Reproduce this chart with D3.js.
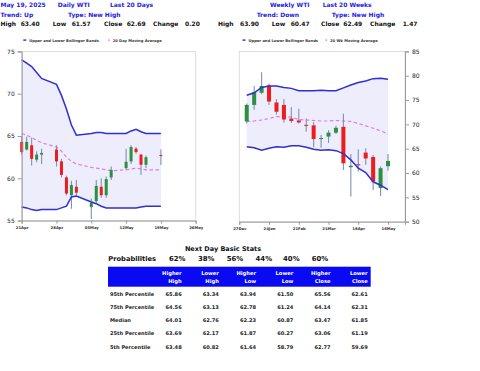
<!DOCTYPE html>
<html>
<head>
<meta charset="utf-8">
<script src="https://cdn.jsdelivr.net/npm/d3@7"></script>
<style>
  body { margin: 0; background: #fff; }
  text { font-family: "DejaVu Sans", Verdana, sans-serif; }
</style>
</head>
<body>
<script>
// daily WTI, last 20 days
const dailyDates = ["2025-04-21","2025-04-22","2025-04-23","2025-04-24","2025-04-25",
  "2025-04-28","2025-04-29","2025-04-30","2025-05-01","2025-05-02",
  "2025-05-05","2025-05-06","2025-05-07","2025-05-08","2025-05-09",
  "2025-05-12","2025-05-13","2025-05-14","2025-05-15","2025-05-16","2025-05-19"];
const dailyOpen  = [64.3, 63.4, 63.9, 62.2, 62.8, 63.4, 62.0, 60.1, 58.0, 59.0, 56.6, 57.3, 59.0, 58.0, 60.1, 61.2, 62.0, 63.5, 62.8, 61.6, 62.75];
const dailyHigh  = [64.9, 64.9, 64.8, 63.2, 63.5, 63.9, 62.3, 60.3, 59.7, 59.8, 57.6, 59.8, 60.0, 60.2, 61.4, 63.5, 63.9, 63.7, 62.9, 62.7, 63.40];
const dailyLow   = [62.8, 63.3, 61.5, 61.9, 61.7, 61.4, 60.1, 58.0, 56.4, 58.0, 55.2, 57.0, 57.7, 57.7, 59.8, 61.0, 61.7, 62.9, 60.4, 61.2, 61.57];
const dailyClose = [63.1, 64.3, 62.3, 62.8, 63.0, 62.0, 60.4, 58.2, 59.2, 58.3, 57.1, 59.1, 58.0, 59.9, 61.0, 61.95, 63.7, 63.1, 61.6, 62.49, 62.69];
const dailyUpper = [74.0, 73.6, 73.2, 72.5, 71.8, 71.1, 69.8, 68.2, 66.3, 65.1, 65.3, 65.4, 65.4, 65.3, 65.3, 65.3, 65.6, 65.8, 65.5, 65.3, 65.3];
const dailyLower = [56.6, 56.5, 56.3, 56.2, 56.3, 56.3, 56.5, 56.7, 57.8, 57.9, 57.2, 57.0, 56.7, 56.5, 56.5, 56.5, 56.5, 56.5, 56.6, 56.7, 56.7];
const dailyMA    = [65.3, 65.1, 64.8, 64.5, 64.2, 63.7, 63.2, 62.5, 62.0, 61.7, 61.3, 61.2, 61.1, 61.0, 60.9, 61.0, 61.1, 61.2, 61.1, 61.0, 61.0];
const dailyTicks = ["2025-04-21","2025-04-28","2025-05-05","2025-05-12","2025-05-19","2025-05-26"];

// weekly WTI, last 20 weeks
const weeklyDates = ["2025-01-03","2025-01-10","2025-01-17","2025-01-24","2025-01-31",
  "2025-02-07","2025-02-14","2025-02-21","2025-02-28","2025-03-07",
  "2025-03-14","2025-03-21","2025-03-28","2025-04-04","2025-04-11",
  "2025-04-18","2025-04-25","2025-05-02","2025-05-09","2025-05-16"];
const weeklyOpen  = [70.6, 74.0, 76.5, 78.0, 74.5, 74.0, 71.2, 70.8, 69.9, 69.8, 67.0, 67.5, 68.3, 69.5, 61.2, 61.8, 64.2, 63.3, 56.9, 61.4];
const weeklyHigh  = [74.3, 77.9, 80.7, 78.4, 75.2, 75.2, 73.5, 73.2, 71.2, 70.5, 67.8, 68.8, 69.7, 72.2, 63.9, 64.9, 65.1, 63.7, 61.4, 63.90];
const weeklyLow   = [70.2, 73.0, 76.2, 74.0, 72.0, 70.4, 70.3, 70.2, 68.5, 65.3, 65.2, 66.2, 68.0, 60.6, 55.2, 60.3, 61.7, 56.5, 55.3, 60.47];
const weeklyClose = [74.0, 76.6, 77.9, 74.7, 72.6, 71.0, 70.7, 70.4, 69.8, 67.0, 67.2, 68.3, 69.3, 62.0, 61.5, 61.6, 63.0, 58.3, 61.0, 62.49];
const weeklyUpper = [76.0, 76.5, 77.6, 77.9, 77.9, 77.6, 77.4, 76.9, 76.9, 76.9, 77.0, 76.9, 76.9, 77.5, 78.1, 78.6, 78.9, 79.4, 79.5, 79.3];
const weeklyLower = [65.4, 65.2, 64.7, 65.1, 65.4, 65.3, 65.6, 65.6, 65.3, 64.9, 64.7, 64.8, 64.6, 64.0, 62.7, 61.0, 60.1, 58.2, 57.5, 56.6];
const weeklyMA    = [70.6, 70.7, 70.9, 71.2, 71.6, 71.6, 71.5, 71.0, 70.9, 70.8, 70.7, 70.7, 70.8, 70.7, 70.6, 70.2, 69.7, 69.2, 68.7, 68.0];
const weeklyTicks = ["2024-12-27","2025-01-24","2025-02-21","2025-03-21","2025-04-18","2025-05-16"];

// header texts
const headBlue1 = ["May 19, 2025", "Daily WTI", "Last 20 Days", "Weekly WTI", "Last 20 Weeks"];
const headBlue2 = ["Trend: Up", "Type: New High", "Trend: Down", "Type: New High"];
const headStats = ["High", "63.40", "Low", "61.57", "Close", "62.69", "Change", "0.20",
                   "High", "63.90", "Low", "60.47", "Close", "62.49", "Change", "1.47"];
const legendDaily  = ["Upper and Lower Bollinger Bands", "20 Day Moving Average"];
const legendWeekly = ["Upper and Lower Bollinger Bands", "20 Wk Moving Average"];

// next day stats table
const probabilities = ["62%", "38%", "56%", "44%", "40%", "60%"];
const colHeads = [["Higher", "High"], ["Lower", "High"], ["Higher", "Low"], ["Lower", "Low"], ["Higher", "Close"], ["Lower", "Close"]];
const rowLabels = ["95th Percentile", "75th Percentile", "Median", "25th Percentile", "5th Percentile"];
const tableValues = [
  ["65.86", "63.34", "63.94", "61.50", "65.56", "62.61"],
  ["64.56", "63.13", "62.78", "61.24", "64.14", "62.31"],
  ["64.01", "62.76", "62.23", "60.87", "63.47", "61.85"],
  ["63.69", "62.17", "61.87", "60.27", "63.06", "61.19"],
  ["63.48", "60.82", "61.64", "58.79", "62.77", "59.69"]
];

const parse = d3.timeParse("%Y-%m-%d");
const fmtTick = d3.timeFormat("%d%b");

const BLUE = "#1c1ce0";
const BAND = "#2f2fd2";
const MAC = "#e07ce6";
const RED = "#ee1c1c";
const GREEN = "#2b9140";
const WICK = "#7f90b4";

const svg = d3.select("body").append("svg")
  .attr("width", 480).attr("height", 371);
svg.append("rect").attr("width", 480).attr("height", 371).attr("fill", "#fff");

// header
const h1x = [0.5, 57.7, 110, 270, 322.7];
const h2x = [0.5, 68, 256.7, 331.7];
const h3x = [0.5, 20.7, 52.7, 71.7, 104, 126.7, 153, 185, 218, 240, 271.7, 290.7, 321, 343.3, 370, 402.7];
svg.append("g").selectAll("text").data(headBlue1).join("text")
  .attr("x", (d, i) => h1x[i]).attr("y", 7.4)
  .attr("font-size", 6).attr("font-weight", "bold").attr("fill", BLUE).text(d => d);
svg.append("g").selectAll("text").data(headBlue2).join("text")
  .attr("x", (d, i) => h2x[i]).attr("y", 16.6)
  .attr("font-size", 6).attr("font-weight", "bold").attr("fill", BLUE).text(d => d);
svg.append("g").selectAll("text").data(headStats).join("text")
  .attr("x", (d, i) => h3x[i]).attr("y", 25.8)
  .attr("font-size", 6).attr("font-weight", "bold").attr("fill", "#111").text(d => d);

function legend(labels, x0, x1) {
  const g = svg.append("g");
  g.append("rect").attr("x", x0 - 6).attr("y", 39.4).attr("width", 3).attr("height", 1.4).attr("fill", BAND);
  g.append("text").attr("x", x0).attr("y", 41.5).attr("font-size", 3.7).attr("font-weight", "bold")
    .attr("fill", "#333").text(labels[0]);
  g.append("rect").attr("x", x1 - 4.5).attr("y", 39.4).attr("width", 1.6).attr("height", 1.4).attr("fill", MAC);
  g.append("text").attr("x", x1).attr("y", 41.5).attr("font-size", 3.7).attr("font-weight", "bold")
    .attr("fill", "#333").text(labels[1]);
}
legend(legendDaily, 29.3, 112.7);
legend(legendWeekly, 248.5, 330);

function chart(opts) {
  const { dates, open, high, low, close, upper, lower, ma, ticks, x, y, yTicks, side, bodyW } = opts;
  const ds = dates.map(parse);
  const g = svg.append("g");
  const [x0, x1] = x.range();
  const [yb, yt] = y.range();

  g.append("rect").attr("x", x0).attr("y", yt).attr("width", x1 - x0).attr("height", yb - yt)
    .attr("fill", "#fff").attr("stroke", "#d4d4d4").attr("stroke-width", 0.8);

  const idx = d3.range(ds.length);
  g.append("path").datum(idx)
    .attr("fill", "#ededfb")
    .attr("d", d3.area().x(i => x(ds[i])).y0(i => y(lower[i])).y1(i => y(upper[i])));

  g.append("path").datum(idx)
    .attr("fill", "none").attr("stroke", MAC).attr("stroke-width", 1.2).attr("stroke-dasharray", "3.5,2.5")
    .attr("d", d3.line().x(i => x(ds[i])).y(i => y(ma[i])));

  const c = g.append("g").selectAll("g").data(idx).join("g");
  c.append("line")
    .attr("x1", i => x(ds[i])).attr("x2", i => x(ds[i]))
    .attr("y1", i => y(high[i])).attr("y2", i => y(low[i]))
    .attr("stroke", WICK).attr("stroke-width", 1.1);
  c.append("rect")
    .attr("x", i => x(ds[i]) - bodyW / 2).attr("width", bodyW)
    .attr("y", i => y(Math.max(open[i], close[i])))
    .attr("height", i => Math.max(1, Math.abs(y(open[i]) - y(close[i]))))
    .attr("fill", i => close[i] >= open[i] ? GREEN : RED);

  const bl = d3.line().x(i => x(ds[i]));
  g.append("path").datum(idx).attr("fill", "none").attr("stroke", BAND).attr("stroke-width", 1.5)
    .attr("d", bl.y(i => y(upper[i])));
  g.append("path").datum(idx).attr("fill", "none").attr("stroke", BAND).attr("stroke-width", 1.5)
    .attr("d", d3.line().x(i => x(ds[i])).y(i => y(lower[i])));

  // y axis
  const ya = side === "left"
    ? d3.axisLeft(y).tickValues(yTicks).tickSize(4).tickPadding(3)
    : d3.axisRight(y).tickValues(yTicks).tickSize(4).tickPadding(3);
  const yg = g.append("g").attr("transform", `translate(${side === "left" ? x0 : x1},0)`).call(ya);
  yg.select(".domain").attr("stroke", "#9a9a9a");
  yg.selectAll(".tick line").attr("stroke", "#9a9a9a");
  yg.selectAll("text").attr("font-size", 6).attr("fill", "#222")
    .attr("font-family", "DejaVu Sans");

  // x axis
  const xa = d3.axisBottom(x).tickValues(ticks.map(parse)).tickFormat(fmtTick).tickSize(3).tickPadding(2.5);
  const xg = g.append("g").attr("transform", `translate(0,${yb})`).call(xa);
  xg.select(".domain").attr("stroke", "#9a9a9a");
  xg.selectAll(".tick line").attr("stroke", "#9a9a9a");
  xg.selectAll("text").attr("font-size", 3.8).attr("font-weight", "bold").attr("fill", "#333")
    .attr("font-family", "DejaVu Sans");
}

chart({
  dates: dailyDates, open: dailyOpen, high: dailyHigh, low: dailyLow, close: dailyClose,
  upper: dailyUpper, lower: dailyLower, ma: dailyMA, ticks: dailyTicks,
  x: d3.scaleTime().domain([parse("2025-04-21"), parse("2025-05-26")]).range([21.7, 195.7]),
  y: d3.scaleLinear().domain([55, 75]).range([220.6, 51.4]),
  yTicks: [55, 60, 65, 70, 75], side: "left", bodyW: 3
});

chart({
  dates: weeklyDates, open: weeklyOpen, high: weeklyHigh, low: weeklyLow, close: weeklyClose,
  upper: weeklyUpper, lower: weeklyLower, ma: weeklyMA, ticks: weeklyTicks,
  x: d3.scaleTime().domain([parse("2024-12-27"), parse("2025-06-01")]).range([239.3, 405]),
  y: d3.scaleLinear().domain([50, 85]).range([221.7, 51.4]),
  yTicks: [50, 55, 60, 65, 70, 75, 80, 85], side: "right", bodyW: 4
});

// table
const tbl = svg.append("g");
tbl.append("text").attr("x", 223).attr("y", 250.6).attr("text-anchor", "middle")
  .attr("font-size", 6.5).attr("font-weight", "bold").attr("fill", "#111").text("Next Day Basic Stats");
tbl.append("text").attr("x", 108.3).attr("y", 261.2)
  .attr("font-size", 6.7).attr("font-weight", "bold").attr("fill", "#111").text("Probabilities");
const probX = [177.2, 206.2, 235, 263.8, 291.3, 320];
tbl.selectAll("text.p").data(probabilities).join("text").attr("class", "p")
  .attr("x", (d, i) => probX[i]).attr("y", 261.2).attr("text-anchor", "middle")
  .attr("font-size", 6.9).attr("font-weight", "bold").attr("fill", "#111").text(d => d);

const colX = d3.scaleLinear().domain([0, 6]).range([147.5, 370.7]);
tbl.append("rect").attr("x", 108).attr("y", 266.7).attr("width", 370.7 - 108).attr("height", 20)
  .attr("fill", "#0a0af2");
colHeads.forEach((h, j) => {
  h.forEach((t, k) => {
    tbl.append("text").attr("x", colX(j + 1) - 3).attr("y", 275.3 + k * 8.1)
      .attr("text-anchor", "end").attr("font-size", 5.2).attr("font-weight", "bold")
      .attr("fill", "#fff").text(t);
  });
});
const rowY = d3.scaleLinear().domain([0, 4]).range([295.6, 348.5]);
rowLabels.forEach((r, i) => {
  tbl.append("text").attr("x", 110).attr("y", rowY(i))
    .attr("font-size", 5.1).attr("font-weight", "bold").attr("fill", "#222").text(r);
  tableValues[i].forEach((v, j) => {
    tbl.append("text").attr("x", colX(j + 1) - 3).attr("y", rowY(i)).attr("text-anchor", "end")
      .attr("font-size", 5.1).attr("font-weight", "bold").attr("fill", "#222").text(v);
  });
});
</script>
</body>
</html>
